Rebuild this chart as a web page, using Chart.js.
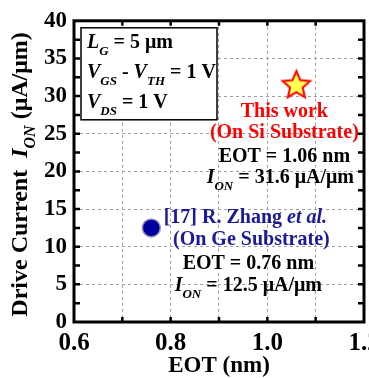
<!DOCTYPE html>
<html lang="en">
<head>
  <meta charset="UTF-8" />
  <title>Drive Current vs EOT</title>
  <script src="https://cdn.jsdelivr.net/npm/chart.js"></script>
  <style>
    html, body { margin: 0; padding: 0; background: #fff; overflow: hidden; }
  </style>
</head>
<body>
  <canvas id="ionChart" width="390" height="378"></canvas>

  <script>
    // data
    const eotThisWork = [1.06];
    const ionThisWork = [31.6];
    const eotZhang = [0.76];
    const ionZhang = [12.5];

    const xLabelTicks = [0.6, 0.8, 1.0, 1.2];
    const yLabelTicks = [0, 5, 10, 15, 20, 25, 30, 35, 40];

    const SERIF = '"Liberation Serif", "Times New Roman", serif';

    // 5-point star used as the point style for "this work"
    function makeStar(r) {
      const s = Math.ceil(r * 2 + 4);
      const c = document.createElement('canvas');
      c.width = s; c.height = s;
      const g = c.getContext('2d');
      g.beginPath();
      for (let i = 0; i < 10; i++) {
        const rad = i % 2 ? r * 0.46 : r;
        const a = -Math.PI / 2 + i * Math.PI / 5;
        g.lineTo(s / 2 + rad * Math.cos(a), s / 2 + rad * Math.sin(a) + 1.5);
      }
      g.closePath();
      g.fillStyle = '#ffff55';
      g.fill();
      g.lineWidth = 2;
      g.strokeStyle = '#ff0000';
      g.stroke();
      return c;
    }

    // draws a line made of parts: {t, it, sub}
    function drawRich(ctx, parts, x, y, size, align, color) {
      const fontOf = p => (p.it ? 'italic ' : '') + 'bold ' + (p.sub ? Math.round(size * 0.65) : size) + 'px ' + SERIF;
      let w = 0;
      parts.forEach(p => { ctx.font = fontOf(p); p.w = ctx.measureText(p.t).width; w += p.w; });
      let cx = align === 'center' ? x - w / 2 : (align === 'right' ? x - w : x);
      ctx.fillStyle = color;
      ctx.textAlign = 'left';
      ctx.textBaseline = 'alphabetic';
      parts.forEach(p => {
        ctx.font = fontOf(p);
        ctx.fillText(p.t, cx, y + (p.sub ? size * 0.35 : 0));
        cx += p.w;
      });
    }

    const decor = {
      id: 'decor',
      beforeDatasetsDraw(chart) {
        const { ctx, chartArea: a, scales: { x, y } } = chart;
        ctx.save();
        ctx.strokeStyle = '#000';
        // inward ticks
        ctx.lineWidth = 2.5;
        ctx.beginPath();
        for (let v = 0.7; v < 1.19; v += 0.1) {
          const px = x.getPixelForValue(v);
          ctx.moveTo(px, a.bottom); ctx.lineTo(px, a.bottom - 5);
          ctx.moveTo(px, a.top); ctx.lineTo(px, a.top + 5);
        }
        for (let v = 2.5; v < 40; v += 2.5) {
          const py = y.getPixelForValue(v);
          ctx.moveTo(a.left, py); ctx.lineTo(a.left + 6, py);
          ctx.moveTo(a.right, py); ctx.lineTo(a.right - 6, py);
        }
        ctx.stroke();
        // frame
        ctx.lineWidth = 3;
        ctx.strokeRect(a.left, a.top, a.right - a.left, a.bottom - a.top);
        ctx.restore();
      },
      afterDatasetsDraw(chart) {
        const { ctx, chartArea: a, scales: { x, y } } = chart;
        ctx.save();

        // condition box
        const bx = a.left + 7, by = a.top + 7;
        ctx.fillStyle = '#fff';
        ctx.fillRect(bx, by, 136, 92);
        ctx.lineWidth = 1.5;
        ctx.strokeStyle = '#000';
        ctx.strokeRect(bx, by, 136, 92);
        drawRich(ctx, [{ t: 'L', it: 1 }, { t: 'G', it: 1, sub: 1 }, { t: ' = 5 μm' }], bx + 6, by + 20, 20, 'left', '#000');
        drawRich(ctx, [{ t: 'V', it: 1 }, { t: 'GS', it: 1, sub: 1 }, { t: ' - ' }, { t: 'V', it: 1 }, { t: 'TH', it: 1, sub: 1 }, { t: ' = 1 V' }], bx + 6, by + 50, 20, 'left', '#000');
        drawRich(ctx, [{ t: 'V', it: 1 }, { t: 'DS', it: 1, sub: 1 }, { t: ' = 1 V' }], bx + 6, by + 80, 20, 'left', '#000');

        // labels next to the points
        const sx = x.getPixelForValue(eotThisWork[0]) - 12;
        const sy = y.getPixelForValue(ionThisWork[0]);
        drawRich(ctx, [{ t: 'This work' }], sx, sy + 33, 20, 'center', '#ff0000');
        drawRich(ctx, [{ t: '(On Si Substrate)' }], sx, sy + 54, 20, 'center', '#ff0000');
        drawRich(ctx, [{ t: 'EOT = ' + eotThisWork[0].toFixed(2) + ' nm' }], sx, sy + 78, 20, 'center', '#000');
        drawRich(ctx, [{ t: 'I', it: 1 }, { t: 'ON', it: 1, sub: 1 }, { t: ' = ' + ionThisWork[0].toFixed(1) + ' μA/μm' }], sx - 4, sy + 99, 20, 'center', '#000');

        const zx = x.getPixelForValue(eotZhang[0]) + 97;
        const zy = y.getPixelForValue(ionZhang[0]);
        drawRich(ctx, [{ t: '[17] R. Zhang ' }, { t: 'et al.', it: 1 }], zx - 3, zy - 5, 20, 'center', '#1a1a9a');
        drawRich(ctx, [{ t: '(On Ge Substrate)' }], zx + 3, zy + 17, 20, 'center', '#1a1a9a');
        drawRich(ctx, [{ t: 'EOT = ' + eotZhang[0].toFixed(2) + ' nm' }], zx, zy + 41, 20, 'center', '#000');
        drawRich(ctx, [{ t: 'I', it: 1 }, { t: 'ON', it: 1, sub: 1 }, { t: ' = ' + ionZhang[0].toFixed(1) + ' μA/μm' }], zx, zy + 63, 20, 'center', '#000');

        // axis titles
        drawRich(ctx, [{ t: 'EOT (nm)' }], (a.left + a.right) / 2, 372, 23, 'center', '#000');
        ctx.translate(27, (a.top + a.bottom) / 2 + 3);
        ctx.rotate(-Math.PI / 2);
        drawRich(ctx, [{ t: 'Drive Current  ' }, { t: 'I', it: 1 }, { t: 'ON', it: 1, sub: 1 }, { t: ' (μA/μm)' }], 0, 0, 24, 'center', '#000');
        ctx.restore();
      }
    };

    const ctx = document.getElementById('ionChart').getContext('2d');
    new Chart(ctx, {
      type: 'scatter',
      data: {
        datasets: [
          {
            label: 'This work',
            data: eotThisWork.map((v, i) => ({ x: v, y: ionThisWork[i] })),
            pointStyle: makeStar(14.5),
            pointRadius: 15
          },
          {
            label: 'R. Zhang et al.',
            data: eotZhang.map((v, i) => ({ x: v, y: ionZhang[i] })),
            pointStyle: 'circle',
            pointRadius: 9,
            backgroundColor: '#0000a0',
            borderColor: '#9a9ab8',
            borderWidth: 1.5
          }
        ]
      },
      options: {
        responsive: false,
        animation: false,
        layout: { padding: { left: 0, right: 26, top: 15, bottom: 0 } },
        plugins: {
          legend: { display: false },
          tooltip: { enabled: false }
        },
        scales: {
          x: {
            type: 'linear',
            min: 0.6,
            max: 1.2,
            afterFit: s => { s.height = 56; },
            grid: { color: '#a0a0a0', lineWidth: 1, drawTicks: false },
            border: { display: false, dash: [3, 3] },
            ticks: {
              stepSize: 0.1,
              autoSkip: false,
              maxRotation: 0,
              padding: 7,
              color: '#000',
              font: { family: SERIF, size: 25, weight: 'bold' },
              callback: v => xLabelTicks.some(t => Math.abs(t - v) < 1e-6) ? v.toFixed(1) : ''
            }
          },
          y: {
            type: 'linear',
            min: 0,
            max: 40,
            afterFit: s => { s.width = 74; },
            grid: { color: '#a0a0a0', lineWidth: 1, drawTicks: false },
            border: { display: false, dash: [3, 3] },
            ticks: {
              stepSize: 5,
              padding: 7,
              color: '#000',
              font: { family: SERIF, size: 23, weight: 'bold' },
              callback: v => yLabelTicks.includes(v) ? String(v) : ''
            }
          }
        }
      },
      plugins: [decor]
    });
  </script>
</body>
</html>
